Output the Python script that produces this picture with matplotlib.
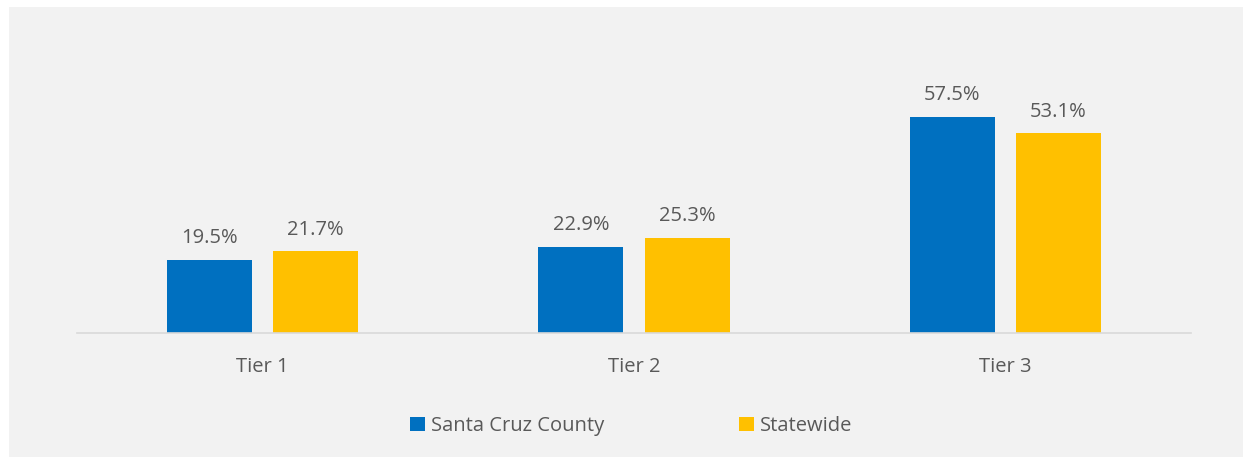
import numpy as np
import matplotlib.pyplot as plt
from matplotlib.patches import Rectangle

categories = ['Tier 1', 'Tier 2', 'Tier 3']
county = [19.5, 22.9, 57.5]
statewide = [21.7, 25.3, 53.1]
series_names = ['Santa Cruz County', 'Statewide']

W, H = 1243, 457
fig = plt.figure(figsize=(W / 100, H / 100), dpi=100)
fig.patch.set_facecolor('white')
fig.patches.append(Rectangle((9 / W, 0), 1 - 9 / W, 1 - 7 / H, transform=fig.transFigure,
                             facecolor='#f2f2f2', edgecolor='none', zorder=-1))

plt.rcParams['font.family'] = ['Open Sans', 'DejaVu Sans']
txt = '#595959'
fs = 14.5

ax = fig.add_axes([77 / W, (H - 333) / H, (1191 - 77) / W, 263 / H])
ax.set_facecolor('none')
x = np.arange(len(categories))
bw = 0.229
gap = 0.057
b1 = ax.bar(x - (bw + gap) / 2, county, bw, color='#0070c0', label=series_names[0])
b2 = ax.bar(x + (bw + gap) / 2, statewide, bw, color='#ffc000', label=series_names[1])
for bars, vals in ((b1, county), (b2, statewide)):
    for r, v in zip(bars, vals):
        ax.annotate(f'{v:.1f}%', (r.get_x() + r.get_width() / 2, v), xytext=(0, 8.5),
                    textcoords='offset points', ha='center', va='bottom',
                    fontsize=fs, color=txt)

ax.set_xlim(-0.5, 2.5)
ax.set_ylim(0, 70)
ax.set_xticks(x)
ax.set_xticklabels(categories, fontsize=fs, color=txt)
ax.tick_params(axis='x', length=0, pad=17)
ax.set_yticks([])
for s in ['top', 'right', 'left']:
    ax.spines[s].set_visible(False)
ax.spines['bottom'].set_color('#d9d9d9')
ax.spines['bottom'].set_linewidth(1.2)

leg = fig.legend(handles=[b1, b2], loc='center', bbox_to_anchor=(631 / W, 1 - 426 / H),
                 ncol=2, frameon=False, fontsize=fs, handlelength=0.75, handleheight=0.75,
                 handletextpad=0.3, columnspacing=6.7)
for t in leg.get_texts():
    t.set_color(txt)

fig.savefig('out.png', dpi=100)
